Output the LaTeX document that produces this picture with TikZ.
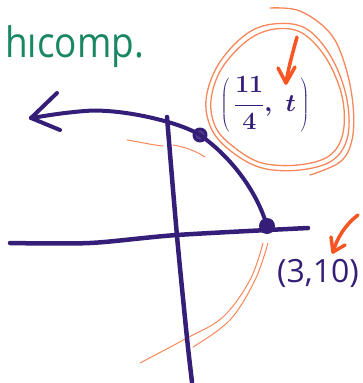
\documentclass[tikz,border=0pt]{standalone}
\usepackage{fontspec}
\setsansfont{Open Sans}
\usetikzlibrary{calc}
\definecolor{ink}{RGB}{52,30,120}
\definecolor{peach}{RGB}{246,135,90}
\definecolor{redor}{RGB}{248,85,35}
\definecolor{mgreen}{RGB}{25,135,100}
\begin{document}
\begin{tikzpicture}[x=1pt,y=-1pt,line cap=round,line join=round,
  axis/.style={draw=ink,line width=4.5pt},
  curve/.style={draw=ink,line width=4pt},
  loop/.style={draw=peach,line width=1.3pt},
  faint/.style={draw=peach,line width=1pt},
  pointer/.style={draw=redor,line width=3.5pt},
  hollowpt/.style={circle,draw=ink,fill=ink!85,line width=3pt,minimum size=12pt,inner sep=0pt},
  solidpt/.style={circle,fill=ink,minimum size=16pt,inner sep=0pt}]
\useasboundingbox (0,0) rectangle (362,383);

% orange loops
\draw[loop] plot[smooth cycle,tension=0.6] coordinates {(212,130) (206,100) (218,65) (245,35) (273,24) (305,28) (330,55) (346,95) (348,135) (333,160) (300,170) (262,168) (232,152)};
\draw[loop] plot[smooth cycle,tension=0.6] coordinates {(216,128) (211,100) (222,68) (248,40) (275,29) (302,33) (326,58) (342,96) (343,133) (329,156) (298,165) (262,163) (235,148)};
\draw[loop] plot[smooth,tension=0.6] coordinates {(270,8) (300,11) (330,33) (345,65) (353,105) (352,140) (340,162) (310,175)};

% thin orange strokes
\coordinate (f1) at (127,140); \coordinate (f2) at (163,146);
\coordinate (f3) at (173,145); \coordinate (f4) at (205,157);
\draw[faint] (f1) .. controls (140,142) and (152,145) .. (f2);
\draw[faint] (f3) .. controls (185,147) and (196,151) .. (f4);
\draw[faint] plot[smooth,tension=0.6] coordinates {(263,243) (250,280) (223,317) (187,338) (140,363)};
\draw[faint] plot[smooth,tension=0.6] coordinates {(268,243) (255,280) (230,320) (193,347)};

% axes
\coordinate (xl) at (10,243); \coordinate (xr) at (308,228);
\coordinate (yt) at (167,117); \coordinate (yb) at (192,382);
\draw[axis] plot[smooth,tension=0.5] coordinates {(xl) (90,243) (177,235) (xr)};
\draw[axis] plot[smooth,tension=0.5] coordinates {(yt) (177,236) (187,338) (yb)};

% points
\node[hollowpt] (P) at (200,135) {};
\node[solidpt] (Q) at (267,226) {};

% curve with arrow
\coordinate (tip) at (31,118);
\draw[curve] (Q.center) .. controls (258,195) and (235,160) .. (P.center);
\draw[curve] (P.center) .. controls (180,122) and (120,108) .. (85,111) .. controls (60,113) and (45,116) .. (tip);
\draw[curve] (tip) -- (57,93);
\draw[curve] (tip) -- (60,130);

% labels
\node[text=ink,font=\fontsize{28}{32}\selectfont\boldmath,inner sep=0pt] (lp) at (265,104) {$\displaystyle\left(\vrule height 35pt depth 21pt width 0pt\,\frac{11}{4},\ t\,\right)$};
\node[text=ink,font=\fontsize{32}{36}\selectfont\sffamily,inner sep=0pt] (lq) at (318,273) {(3,10)};
\node[text=mgreen,font=\fontsize{42}{46}\selectfont\sffamily,anchor=base west,inner sep=0pt,xscale=0.88] (title) at (5,57) {h\i comp.};

% orange arrows
\coordinate (a1s) at (297,37); \coordinate (a1t) at (286,83);
\draw[pointer] (a1s) .. controls (292,55) and (288,70) .. (a1t);
\draw[pointer] (278,68) -- (a1t) -- (295,67);
\coordinate (a2s) at (358,215); \coordinate (a2t) at (333,252);
\draw[pointer] (a2s) .. controls (345,225) and (337,238) .. (a2t);
\draw[pointer] (331,237) -- (a2t) -- (345,245);
\end{tikzpicture}
\end{document}
